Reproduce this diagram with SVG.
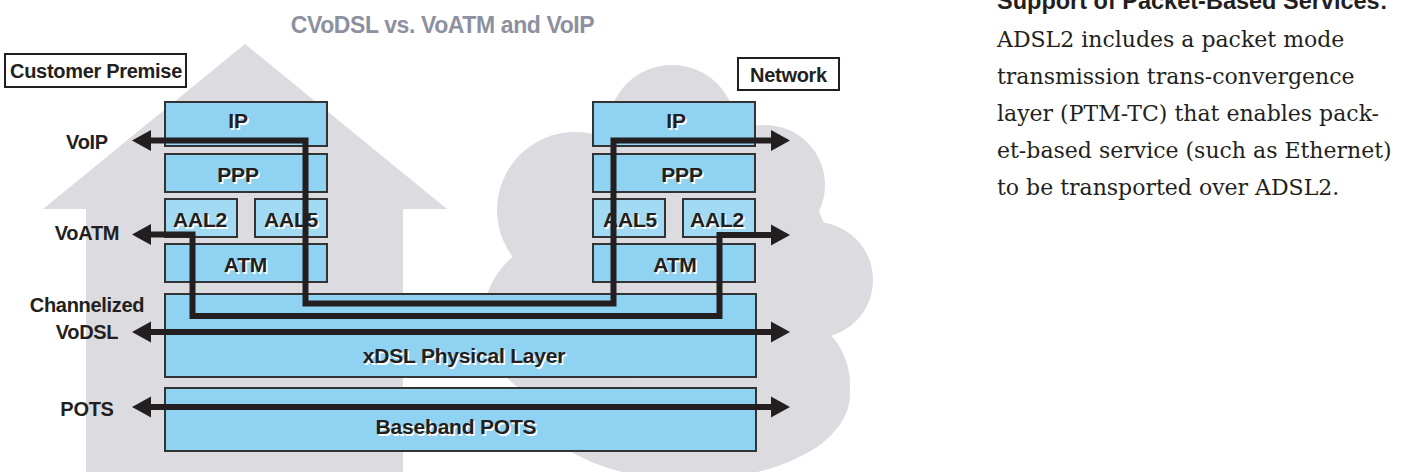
<svg xmlns="http://www.w3.org/2000/svg" width="1411" height="472" viewBox="0 0 1411 472">
<defs>
<style>
.bg{fill:#dcdbe0}
.box{fill:#8fd2f2;stroke:#333;stroke-width:2}
.aal{fill:#a2daf4}
.t{font-family:"Liberation Sans",Arial,sans-serif;font-weight:bold;font-size:21px;letter-spacing:-0.2px;fill:#231f20;text-anchor:middle}
.sh{fill:#ffffff}
.lbl{font-size:20px;letter-spacing:-0.3px}
.tag{fill:#ffffff;stroke:#231f20;stroke-width:2}
.wire{fill:none;stroke:#231f20;stroke-width:6;stroke-linejoin:miter;marker-start:url(#ah);marker-end:url(#ah)}
.body{font-family:"DejaVu Serif","Liberation Serif",serif;font-size:22px;fill:#231f20}
</style>
<marker id="ah" viewBox="0 -11 20 22" refX="3" refY="0" markerWidth="20" markerHeight="22" markerUnits="userSpaceOnUse" orient="auto-start-reverse">
<path d="M0,-10.5 L19,0 L0,10.5 Z" fill="#231f20"/>
</marker>
</defs>

<g id="house">
<polygon class="bg" points="245,44 447,209 403,209 403,472 86,472 86,209 43,209"/>
</g>
<g id="cloud" class="bg">
<circle cx="672" cy="129" r="64"/>
<circle cx="575" cy="210" r="78"/>
<circle cx="765" cy="185" r="60"/>
<circle cx="815" cy="280" r="58"/>
<circle cx="775" cy="385" r="75"/>
<circle cx="565" cy="320" r="82"/>
<ellipse cx="690" cy="395" rx="160" ry="85"/>
<ellipse cx="680" cy="260" rx="150" ry="130"/>
</g>

<text class="t" x="442.5" y="33" style="font-size:23px;letter-spacing:-0.4px;fill:#8c90a0">CVoDSL vs. VoATM and VoIP</text>

<g id="customer-premise">
<rect class="tag" x="5" y="54" width="181" height="33"/>
<text class="t lbl" x="96" y="78">Customer Premise</text>
</g>
<g id="network">
<rect class="tag" x="738" y="58" width="101" height="32"/>
<text class="t lbl" x="788.5" y="82">Network</text>
</g>

<g id="cp-ip"><rect class="box" x="165" y="102" width="162" height="44"/><text class="t sh" x="239.5" y="129.5">IP</text><text class="t" x="238" y="128">IP</text></g>
<g id="cp-ppp"><rect class="box" x="165" y="154" width="162" height="38"/><text class="t sh" x="239.5" y="183.5">PPP</text><text class="t" x="238" y="182">PPP</text></g>
<g id="cp-aal2"><rect class="box aal" x="165" y="199" width="72" height="38"/><text class="t sh" x="201.5" y="228.5">AAL2</text><text class="t" x="200" y="227">AAL2</text></g>
<g id="cp-aal5"><rect class="box aal" x="255" y="199" width="72" height="38"/><text class="t sh" x="292.5" y="228.5">AAL5</text><text class="t" x="291" y="227">AAL5</text></g>
<g id="cp-atm"><rect class="box" x="165" y="244" width="162" height="38"/><text class="t sh" x="247" y="273.5">ATM</text><text class="t" x="245.5" y="272">ATM</text></g>

<g id="net-ip"><rect class="box" x="593" y="102" width="162" height="44"/><text class="t sh" x="677.5" y="129.5">IP</text><text class="t" x="676" y="128">IP</text></g>
<g id="net-ppp"><rect class="box" x="593" y="154" width="162" height="38"/><text class="t sh" x="683.5" y="183.5">PPP</text><text class="t" x="682" y="182">PPP</text></g>
<g id="net-aal5"><rect class="box aal" x="593" y="199" width="72" height="38"/><text class="t sh" x="631.5" y="228.5">AAL5</text><text class="t" x="630" y="227">AAL5</text></g>
<g id="net-aal2"><rect class="box aal" x="683" y="199" width="72" height="38"/><text class="t sh" x="718.5" y="228.5">AAL2</text><text class="t" x="717" y="227">AAL2</text></g>
<g id="net-atm"><rect class="box" x="593" y="244" width="162" height="38"/><text class="t sh" x="676.5" y="273.5">ATM</text><text class="t" x="675" y="272">ATM</text></g>

<g id="xdsl"><rect class="box" x="165" y="294" width="591" height="83"/><text class="t sh" x="465.5" y="364.5">xDSL Physical Layer</text><text class="t" x="464" y="363">xDSL Physical Layer</text></g>
<g id="pots-layer"><rect class="box" x="165" y="388" width="591" height="63"/><text class="t sh" x="457.5" y="435.5">Baseband POTS</text><text class="t" x="456" y="434">Baseband POTS</text></g>

<g id="connectors">
<path class="wire" d="M148,140.5 H305.5 V303.5 H613.5 V140.5 H774"/>
<path class="wire" d="M148,234.5 H192.5 V316 H719.5 V235 H774"/>
<path class="wire" d="M148,332 H774"/>
<path class="wire" d="M148,407 H774"/>
</g>

<g id="labels">
<text class="t lbl" x="87" y="149">VoIP</text>
<text class="t lbl" x="87" y="240">VoATM</text>
<text class="t lbl" x="87" y="311.5">Channelized</text>
<text class="t lbl" x="87" y="339">VoDSL</text>
<text class="t lbl" x="87" y="415.5">POTS</text>
</g>

<g id="sidebar">
<text class="t" x="997" y="9" style="text-anchor:start;font-size:23.5px;letter-spacing:0">Support of Packet-Based Services:</text>
<text class="body" x="997" y="47">ADSL2 includes a packet mode</text>
<text class="body" x="997" y="84">transmission trans-convergence</text>
<text class="body" x="997" y="121">layer (PTM-TC) that enables pack-</text>
<text class="body" x="997" y="158">et-based service (such as Ethernet)</text>
<text class="body" x="997" y="195">to be transported over ADSL2.</text>
</g>
</svg>
